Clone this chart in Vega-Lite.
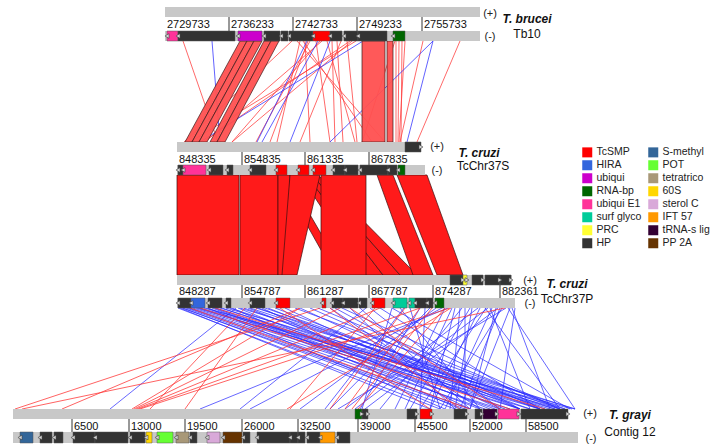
{
"$schema": "https://vega.github.io/schema/vega-lite/v6.json",
"width": 711, "height": 444, "autosize": {"type": "none"}, "padding": 0,
"background": "white",
"config": {"view": {"stroke": null}, "font": "Liberation Sans"},
"datasets": {
"bars": [
{"bar":"T1+","strand":"+","start":165,"end":480,"y":7,"y2":17,"yc":12},
{"bar":"T1-","strand":"-","start":165,"end":480,"y":31,"y2":41,"yc":36},
{"bar":"T2+","strand":"+","start":177,"end":421,"y":142,"y2":152,"yc":147},
{"bar":"T2-","strand":"-","start":177,"end":425,"y":165,"y2":175,"yc":170},
{"bar":"T3+","strand":"+","start":177,"end":512,"y":275,"y2":285,"yc":280},
{"bar":"T3-","strand":"-","start":177,"end":515,"y":298,"y2":308,"yc":303},
{"bar":"T4+","strand":"+","start":13,"end":568,"y":409,"y2":419,"yc":414},
{"bar":"T4-","strand":"-","start":13,"end":578,"y":432,"y2":443,"yc":437.5}
],
"genes": [
{"bar":"T1-","type":"ubiqui E1","start":167,"end":178},
{"bar":"T1-","type":"HP","start":178,"end":235},
{"bar":"T1-","type":"ubiqui","start":238,"end":262},
{"bar":"T1-","type":"HP","start":264,"end":280},
{"bar":"T1-","type":"HP","start":281,"end":288},
{"bar":"T1-","type":"HP","start":289,"end":313},
{"bar":"T1-","type":"TcSMP","start":313,"end":330},
{"bar":"T1-","type":"HP","start":330,"end":342},
{"bar":"T1-","type":"HP","start":344,"end":358},
{"bar":"T1-","type":"HP","start":358,"end":387},
{"bar":"T1-","type":"RNA-bp","start":393,"end":405},
{"bar":"T2+","type":"HP","start":405,"end":421},
{"bar":"T2-","type":"HP","start":178,"end":183},
{"bar":"T2-","type":"ubiqui E1","start":183,"end":206},
{"bar":"T2-","type":"HP","start":209,"end":223},
{"bar":"T2-","type":"HP","start":227,"end":233},
{"bar":"T2-","type":"HP","start":250,"end":266},
{"bar":"T2-","type":"TcSMP","start":276,"end":287},
{"bar":"T2-","type":"TcSMP","start":298,"end":309},
{"bar":"T2-","type":"TcSMP","start":313,"end":326},
{"bar":"T2-","type":"HP","start":333,"end":345},
{"bar":"T2-","type":"HP","start":345,"end":358},
{"bar":"T2-","type":"HP","start":360,"end":388},
{"bar":"T2-","type":"HP","start":388,"end":397},
{"bar":"T2-","type":"RNA-bp","start":398,"end":405},
{"bar":"T3+","type":"HP","start":450,"end":463},
{"bar":"T3+","type":"PRC","start":463,"end":467},
{"bar":"T3+","type":"HP","start":472,"end":483},
{"bar":"T3+","type":"HP","start":485,"end":500},
{"bar":"T3+","type":"HP","start":500,"end":511},
{"bar":"T3-","type":"HP","start":178,"end":191},
{"bar":"T3-","type":"HIRA","start":191,"end":205},
{"bar":"T3-","type":"HP","start":208,"end":222},
{"bar":"T3-","type":"HP","start":226,"end":231},
{"bar":"T3-","type":"HP","start":250,"end":265},
{"bar":"T3-","type":"TcSMP","start":276,"end":290},
{"bar":"T3-","type":"TcSMP","start":322,"end":326},
{"bar":"T3-","type":"HP","start":332,"end":343},
{"bar":"T3-","type":"HP","start":343,"end":358},
{"bar":"T3-","type":"HP","start":359,"end":367},
{"bar":"T3-","type":"TcSMP","start":372,"end":385},
{"bar":"T3-","type":"surf glyco","start":393,"end":407},
{"bar":"T3-","type":"surf glyco","start":409,"end":415},
{"bar":"T3-","type":"HP","start":415,"end":427},
{"bar":"T3-","type":"HP","start":427,"end":433},
{"bar":"T3-","type":"RNA-bp","start":435,"end":444},
{"bar":"T4+","type":"RNA-bp","start":355,"end":362},
{"bar":"T4+","type":"HP","start":362,"end":368},
{"bar":"T4+","type":"HP","start":407,"end":417},
{"bar":"T4+","type":"TcSMP","start":420,"end":432},
{"bar":"T4+","type":"HP","start":454,"end":467},
{"bar":"T4+","type":"HP","start":475,"end":482},
{"bar":"T4+","type":"tRNA-s lig","start":483,"end":497},
{"bar":"T4+","type":"ubiqui E1","start":498,"end":519},
{"bar":"T4+","type":"HP","start":521,"end":568},
{"bar":"T4-","type":"S-methyl","start":20,"end":33},
{"bar":"T4-","type":"HP","start":40,"end":52},
{"bar":"T4-","type":"HP","start":54,"end":63},
{"bar":"T4-","type":"HP","start":73,"end":95},
{"bar":"T4-","type":"HP","start":95,"end":128},
{"bar":"T4-","type":"HP","start":130,"end":145},
{"bar":"T4-","type":"60S","start":146,"end":152},
{"bar":"T4-","type":"POT","start":157,"end":173},
{"bar":"T4-","type":"tetratrico","start":176,"end":189},
{"bar":"T4-","type":"HP","start":190,"end":197},
{"bar":"T4-","type":"sterol C","start":207,"end":220},
{"bar":"T4-","type":"PP 2A","start":223,"end":242},
{"bar":"T4-","type":"HP","start":243,"end":250},
{"bar":"T4-","type":"HP","start":257,"end":290},
{"bar":"T4-","type":"HP","start":290,"end":298},
{"bar":"T4-","type":"HP","start":298,"end":305},
{"bar":"T4-","type":"HP","start":307,"end":320},
{"bar":"T4-","type":"IFT 57","start":320,"end":335},
{"bar":"T4-","type":"HP","start":337,"end":350}
],
"pairs": [
{"pair":"A","yA":41,"yB":142},
{"pair":"B","yA":175,"yB":275},
{"pair":"C","yA":308,"yB":409}
],
"links": [
{"pair":"A","match":"direct","from":183,"to":218},
{"pair":"A","match":"direct","from":292,"to":184},
{"pair":"A","match":"direct","from":297,"to":385},
{"pair":"A","match":"direct","from":300,"to":277},
{"pair":"A","match":"direct","from":303,"to":372},
{"pair":"A","match":"direct","from":305,"to":310},
{"pair":"A","match":"direct","from":310,"to":256},
{"pair":"A","match":"direct","from":316,"to":330},
{"pair":"A","match":"direct","from":322,"to":205},
{"pair":"A","match":"direct","from":327,"to":355},
{"pair":"A","match":"direct","from":332,"to":335},
{"pair":"A","match":"direct","from":337,"to":343},
{"pair":"A","match":"direct","from":341,"to":300},
{"pair":"A","match":"direct","from":347,"to":357},
{"pair":"A","match":"direct","from":350,"to":203},
{"pair":"A","match":"direct","from":352,"to":232},
{"pair":"A","match":"direct","from":356,"to":190},
{"pair":"A","match":"direct","from":396,"to":396},
{"pair":"A","match":"direct","from":399,"to":398},
{"pair":"A","match":"direct","from":402,"to":401},
{"pair":"A","match":"direct","from":405,"to":399},
{"pair":"A","match":"direct","from":460,"to":417},
{"pair":"A","match":"direct","from":423,"to":400},
{"pair":"A","match":"direct","from":395,"to":362},
{"pair":"A","match":"direct","from":320,"to":232},
{"pair":"A","match":"direct","from":308,"to":270},
{"pair":"A","match":"inverted","from":212,"to":220},
{"pair":"A","match":"inverted","from":307,"to":257},
{"pair":"A","match":"inverted","from":318,"to":262},
{"pair":"A","match":"inverted","from":363,"to":200},
{"pair":"A","match":"inverted","from":433,"to":330},
{"pair":"A","match":"inverted","from":433,"to":407},
{"pair":"A","match":"inverted","from":330,"to":290},
{"pair":"C","match":"inverted","from":178,"to":440},
{"pair":"C","match":"inverted","from":180,"to":430},
{"pair":"C","match":"inverted","from":182,"to":465},
{"pair":"C","match":"inverted","from":183,"to":455},
{"pair":"C","match":"inverted","from":186,"to":470},
{"pair":"C","match":"inverted","from":188,"to":485},
{"pair":"C","match":"inverted","from":190,"to":500},
{"pair":"C","match":"inverted","from":193,"to":520},
{"pair":"C","match":"inverted","from":196,"to":540},
{"pair":"C","match":"inverted","from":198,"to":530},
{"pair":"C","match":"inverted","from":200,"to":560},
{"pair":"C","match":"inverted","from":204,"to":572},
{"pair":"C","match":"inverted","from":206,"to":555},
{"pair":"C","match":"inverted","from":208,"to":445},
{"pair":"C","match":"inverted","from":212,"to":480},
{"pair":"C","match":"inverted","from":214,"to":495},
{"pair":"C","match":"inverted","from":216,"to":510},
{"pair":"C","match":"inverted","from":220,"to":550},
{"pair":"C","match":"inverted","from":222,"to":520},
{"pair":"C","match":"inverted","from":226,"to":565},
{"pair":"C","match":"inverted","from":230,"to":540},
{"pair":"C","match":"inverted","from":232,"to":460},
{"pair":"C","match":"inverted","from":236,"to":110},
{"pair":"C","match":"inverted","from":238,"to":490},
{"pair":"C","match":"inverted","from":240,"to":575},
{"pair":"C","match":"inverted","from":244,"to":530},
{"pair":"C","match":"inverted","from":248,"to":505},
{"pair":"C","match":"inverted","from":250,"to":555},
{"pair":"C","match":"inverted","from":256,"to":575},
{"pair":"C","match":"inverted","from":258,"to":540},
{"pair":"C","match":"inverted","from":262,"to":470},
{"pair":"C","match":"inverted","from":265,"to":560},
{"pair":"C","match":"inverted","from":268,"to":520},
{"pair":"C","match":"inverted","from":275,"to":545},
{"pair":"C","match":"inverted","from":285,"to":500},
{"pair":"C","match":"inverted","from":295,"to":565},
{"pair":"C","match":"inverted","from":300,"to":520},
{"pair":"C","match":"inverted","from":310,"to":540},
{"pair":"C","match":"inverted","from":318,"to":560},
{"pair":"C","match":"inverted","from":330,"to":480},
{"pair":"C","match":"inverted","from":335,"to":520},
{"pair":"C","match":"inverted","from":342,"to":560},
{"pair":"C","match":"inverted","from":350,"to":455},
{"pair":"C","match":"inverted","from":360,"to":470},
{"pair":"C","match":"inverted","from":366,"to":240},
{"pair":"C","match":"inverted","from":370,"to":500},
{"pair":"C","match":"inverted","from":380,"to":540},
{"pair":"C","match":"inverted","from":392,"to":570},
{"pair":"C","match":"inverted","from":392,"to":362},
{"pair":"C","match":"inverted","from":400,"to":480},
{"pair":"C","match":"inverted","from":404,"to":325},
{"pair":"C","match":"inverted","from":410,"to":440},
{"pair":"C","match":"inverted","from":420,"to":360},
{"pair":"C","match":"inverted","from":425,"to":420},
{"pair":"C","match":"inverted","from":430,"to":330},
{"pair":"C","match":"inverted","from":436,"to":300},
{"pair":"C","match":"inverted","from":442,"to":250},
{"pair":"C","match":"inverted","from":445,"to":395},
{"pair":"C","match":"inverted","from":448,"to":200},
{"pair":"C","match":"inverted","from":452,"to":405},
{"pair":"C","match":"inverted","from":455,"to":430},
{"pair":"C","match":"inverted","from":460,"to":450},
{"pair":"C","match":"inverted","from":462,"to":380},
{"pair":"C","match":"inverted","from":465,"to":465},
{"pair":"C","match":"inverted","from":470,"to":410},
{"pair":"C","match":"inverted","from":472,"to":455},
{"pair":"C","match":"inverted","from":478,"to":345},
{"pair":"C","match":"inverted","from":480,"to":430},
{"pair":"C","match":"inverted","from":485,"to":560},
{"pair":"C","match":"inverted","from":486,"to":420},
{"pair":"C","match":"inverted","from":488,"to":355},
{"pair":"C","match":"inverted","from":490,"to":530},
{"pair":"C","match":"inverted","from":492,"to":445},
{"pair":"C","match":"inverted","from":496,"to":470},
{"pair":"C","match":"inverted","from":498,"to":365},
{"pair":"C","match":"inverted","from":500,"to":460},
{"pair":"C","match":"inverted","from":502,"to":440},
{"pair":"C","match":"inverted","from":506,"to":338},
{"pair":"C","match":"inverted","from":508,"to":575},
{"pair":"C","match":"inverted","from":510,"to":470},
{"pair":"C","match":"inverted","from":512,"to":550},
{"pair":"C","match":"inverted","from":515,"to":500},
{"pair":"C","match":"direct","from":505,"to":22},
{"pair":"C","match":"direct","from":320,"to":15},
{"pair":"C","match":"direct","from":300,"to":62},
{"pair":"C","match":"direct","from":300,"to":132},
{"pair":"C","match":"direct","from":340,"to":134},
{"pair":"C","match":"direct","from":380,"to":136},
{"pair":"C","match":"direct","from":420,"to":138},
{"pair":"C","match":"direct","from":450,"to":140},
{"pair":"C","match":"direct","from":257,"to":185},
{"pair":"C","match":"direct","from":451,"to":287},
{"pair":"C","match":"direct","from":375,"to":290},
{"pair":"C","match":"direct","from":405,"to":330},
{"pair":"C","match":"direct","from":420,"to":345},
{"pair":"C","match":"direct","from":432,"to":352},
{"pair":"C","match":"direct","from":445,"to":358},
{"pair":"C","match":"direct","from":190,"to":470},
{"pair":"C","match":"direct","from":200,"to":510},
{"pair":"C","match":"direct","from":215,"to":545},
{"pair":"C","match":"direct","from":330,"to":460},
{"pair":"C","match":"direct","from":350,"to":500},
{"pair":"C","match":"direct","from":280,"to":430},
{"pair":"C","match":"direct","from":245,"to":150}
],
"bands": [
{"id":"a01","pair":"A","y":41,"a":240,"b":247},{"id":"a01","pair":"A","y":142,"a":185,"b":192},
{"id":"a02","pair":"A","y":41,"a":247,"b":254},{"id":"a02","pair":"A","y":142,"a":192,"b":199},
{"id":"a03","pair":"A","y":41,"a":254,"b":262},{"id":"a03","pair":"A","y":142,"a":199,"b":207},
{"id":"a04","pair":"A","y":41,"a":264,"b":271},{"id":"a04","pair":"A","y":142,"a":210,"b":217},
{"id":"a05","pair":"A","y":41,"a":271,"b":279},{"id":"a05","pair":"A","y":142,"a":217,"b":225},
{"id":"a06","pair":"A","y":41,"a":362,"b":385},{"id":"a06","pair":"A","y":142,"a":362,"b":385},
{"id":"a07","pair":"A","y":41,"a":387,"b":393},{"id":"a07","pair":"A","y":142,"a":387,"b":393},
{"id":"b01","pair":"B","y":175,"a":177,"b":239},{"id":"b01","pair":"B","y":275,"a":177,"b":239},
{"id":"b02","pair":"B","y":175,"a":240,"b":278},{"id":"b02","pair":"B","y":275,"a":240,"b":278},
{"id":"b03","pair":"B","y":175,"a":279,"b":287},{"id":"b03","pair":"B","y":275,"a":335,"b":345},
{"id":"b04","pair":"B","y":175,"a":300,"b":306},{"id":"b04","pair":"B","y":275,"a":366,"b":383},
{"id":"b05","pair":"B","y":175,"a":306,"b":312},{"id":"b05","pair":"B","y":275,"a":383,"b":400},
{"id":"b06","pair":"B","y":175,"a":312,"b":318},{"id":"b06","pair":"B","y":275,"a":400,"b":417},
{"id":"b07","pair":"B","y":175,"a":278,"b":290},{"id":"b07","pair":"B","y":275,"a":278,"b":286},
{"id":"b08","pair":"B","y":175,"a":290,"b":320},{"id":"b08","pair":"B","y":275,"a":282,"b":297},
{"id":"b09","pair":"B","y":175,"a":321,"b":366},{"id":"b09","pair":"B","y":275,"a":321,"b":366},
{"id":"b10","pair":"B","y":175,"a":377,"b":393},{"id":"b10","pair":"B","y":275,"a":413,"b":433},
{"id":"b11","pair":"B","y":175,"a":397,"b":427},{"id":"b11","pair":"B","y":275,"a":437,"b":463}
],
"tracks": [
{"track":"T1","yTop":17,"yBot":31,"yMid":25},
{"track":"T2","yTop":152,"yBot":165,"yMid":159.5},
{"track":"T3","yTop":285,"yBot":298,"yMid":292},
{"track":"T4","yTop":419,"yBot":432,"yMid":426.5}
],
"ticks": [
{"track":"T1","x":165,"label":"2729733"},{"track":"T1","x":229,"label":"2736233"},{"track":"T1","x":293,"label":"2742733"},{"track":"T1","x":357,"label":"2749233"},{"track":"T1","x":422,"label":"2755733"},
{"track":"T2","x":177,"label":"848335"},{"track":"T2","x":242,"label":"854835"},{"track":"T2","x":305,"label":"861335"},{"track":"T2","x":369,"label":"867835"},
{"track":"T3","x":177,"label":"848287"},{"track":"T3","x":242,"label":"854787"},{"track":"T3","x":305,"label":"861287"},{"track":"T3","x":369,"label":"867787"},{"track":"T3","x":433,"label":"874287"},{"track":"T3","x":500,"label":"882361"},
{"track":"T4","x":72,"label":"6500"},{"track":"T4","x":129,"label":"13000"},{"track":"T4","x":185,"label":"19500"},{"track":"T4","x":242,"label":"26000"},{"track":"T4","x":298,"label":"32500"},{"track":"T4","x":358,"label":"39000"},{"track":"T4","x":415,"label":"45500"},{"track":"T4","x":470,"label":"52000"},{"track":"T4","x":526,"label":"58500"}
],
"strandText": [
{"x":490,"y":14,"t":"(+)"},{"x":490,"y":37,"t":"(-)"},
{"x":437,"y":147,"t":"(+)"},{"x":437,"y":171,"t":"(-)"},
{"x":530,"y":281,"t":"(+)"},{"x":530,"y":304,"t":"(-)"},
{"x":590,"y":414,"t":"(+)"},{"x":591,"y":439,"t":"(-)"}
],
"speciesText": [
{"x":527,"y":19,"t":"T. brucei"},{"x":479,"y":153,"t":"T. cruzi"},{"x":567,"y":284,"t":"T. cruzi"},{"x":630,"y":415,"t":"T. grayi"}
],
"strainText": [
{"x":527,"y":34,"t":"Tb10"},{"x":483,"y":166,"t":"TcChr37S"},{"x":567,"y":299,"t":"TcChr37P"},{"x":630,"y":432,"t":"Contig 12"}
]
},
"layer": [
{
"data": {"name": "links"},
"transform": [{"filter": {"field": "pair", "equal": "A"}}, {"filter": {"field": "match", "equal": "direct"}}, {"lookup": "pair", "from": {"data": {"name": "pairs"}, "key": "pair", "fields": ["yA", "yB"]}}],
"mark": {"type": "rule", "color": "#ff3a3a", "strokeWidth": 0.9, "opacity": 0.85},
"encoding": {
"x": {"field": "from", "type": "quantitative", "scale": {"domain": [0, 711], "nice": false, "zero": false}, "axis": null},
"x2": {"field": "to"},
"y": {"field": "yA", "type": "quantitative", "scale": {"domain": [0, 444], "nice": false, "zero": false, "reverse": true}, "axis": null},
"y2": {"field": "yB"}
}
},
{
"data": {"name": "links"},
"transform": [{"filter": {"field": "pair", "equal": "A"}}, {"filter": {"field": "match", "equal": "inverted"}}, {"lookup": "pair", "from": {"data": {"name": "pairs"}, "key": "pair", "fields": ["yA", "yB"]}}],
"mark": {"type": "rule", "color": "#3030ff", "strokeWidth": 0.9, "opacity": 0.85},
"encoding": {
"x": {"field": "from", "type": "quantitative", "axis": null},
"x2": {"field": "to"},
"y": {"field": "yA", "type": "quantitative", "axis": null},
"y2": {"field": "yB"}
}
},
{
"data": {"name": "bands"},
"transform": [{"filter": {"field": "pair", "equal": "A"}}],
"mark": {"type": "area", "orient": "horizontal", "fill": "#ff5050", "fillOpacity": 0.95, "stroke": "#3a1a1a", "strokeWidth": 0.7},
"encoding": {
"y": {"field": "y", "type": "quantitative", "axis": null},
"x": {"field": "a", "type": "quantitative", "axis": null, "stack": null},
"x2": {"field": "b"},
"detail": {"field": "id"}
}
},
{
"data": {"name": "bands"},
"transform": [{"filter": {"field": "pair", "equal": "B"}}],
"mark": {"type": "area", "orient": "horizontal", "fill": "#ff1a1a", "stroke": "#3a1010", "strokeWidth": 0.7},
"encoding": {
"y": {"field": "y", "type": "quantitative", "axis": null},
"x": {"field": "a", "type": "quantitative", "axis": null, "stack": null},
"x2": {"field": "b"},
"detail": {"field": "id"}
}
},
{
"data": {"name": "links"},
"transform": [{"filter": {"field": "pair", "equal": "C"}}, {"filter": {"field": "match", "equal": "inverted"}}, {"lookup": "pair", "from": {"data": {"name": "pairs"}, "key": "pair", "fields": ["yA", "yB"]}}],
"mark": {"type": "rule", "color": "#2b2bff", "strokeWidth": 0.9, "opacity": 0.8},
"encoding": {
"x": {"field": "from", "type": "quantitative", "axis": null},
"x2": {"field": "to"},
"y": {"field": "yA", "type": "quantitative", "axis": null},
"y2": {"field": "yB"}
}
},
{
"data": {"name": "links"},
"transform": [{"filter": {"field": "pair", "equal": "C"}}, {"filter": {"field": "match", "equal": "direct"}}, {"lookup": "pair", "from": {"data": {"name": "pairs"}, "key": "pair", "fields": ["yA", "yB"]}}],
"mark": {"type": "rule", "color": "#ff3030", "strokeWidth": 0.9, "opacity": 0.85},
"encoding": {
"x": {"field": "from", "type": "quantitative", "axis": null},
"x2": {"field": "to"},
"y": {"field": "yA", "type": "quantitative", "axis": null},
"y2": {"field": "yB"}
}
},
{
"data": {"name": "bars"},
"mark": {"type": "rect", "color": "#c8c8c8"},
"encoding": {
"x": {"field": "start", "type": "quantitative", "axis": null},
"x2": {"field": "end"},
"y": {"field": "y", "type": "quantitative", "axis": null},
"y2": {"field": "y2"}
}
},
{
"data": {"name": "ticks"},
"transform": [{"filter": {"not": {"field": "label", "oneOf": ["2729733", "848335", "848287"]}}}, {"lookup": "track", "from": {"data": {"name": "tracks"}, "key": "track", "fields": ["yTop", "yBot"]}}],
"mark": {"type": "rule", "color": "#333333", "strokeWidth": 1},
"encoding": {
"x": {"field": "x", "type": "quantitative", "axis": null},
"y": {"field": "yTop", "type": "quantitative", "axis": null},
"y2": {"field": "yBot"}
}
},
{
"data": {"name": "ticks"},
"transform": [{"lookup": "track", "from": {"data": {"name": "tracks"}, "key": "track", "fields": ["yMid"]}}],
"mark": {"type": "text", "align": "left", "baseline": "middle", "dx": 2, "fontSize": 11, "font": "Liberation Sans", "color": "#111111"},
"encoding": {
"x": {"field": "x", "type": "quantitative", "axis": null},
"y": {"field": "yMid", "type": "quantitative", "axis": null},
"text": {"field": "label"}
}
},
{
"data": {"name": "genes"},
"transform": [{"lookup": "bar", "from": {"data": {"name": "bars"}, "key": "bar", "fields": ["y", "y2", "yc", "strand"]}}],
"mark": {"type": "rect", "stroke": "#555555", "strokeWidth": 0.5},
"encoding": {
"x": {"field": "start", "type": "quantitative", "axis": null},
"x2": {"field": "end"},
"y": {"field": "y", "type": "quantitative", "axis": null},
"y2": {"field": "y2"},
"color": {
"field": "type", "type": "nominal",
"scale": {
"domain": ["TcSMP", "HIRA", "ubiqui", "RNA-bp", "ubiqui E1", "surf glyco", "PRC", "HP", "S-methyl", "POT", "tetratrico", "60S", "sterol C", "IFT 57", "tRNA-s lig", "PP 2A"],
"range": ["#ff0000", "#3366dd", "#cc00cc", "#006600", "#ff3399", "#00cc99", "#ffff33", "#333333", "#336699", "#66ff33", "#a89878", "#ffd700", "#d9a9d9", "#ff9900", "#330033", "#663300"]
},
"legend": {"orient": "none", "legendX": 582, "legendY": 147, "columns": 2, "title": null, "symbolType": "square", "symbolSize": 100, "symbolStrokeWidth": 0, "symbolOpacity": 1, "labelFontSize": 10.5, "labelFont": "Liberation Sans", "labelColor": "#222222", "rowPadding": 2, "columnPadding": 6, "labelOffset": 4, "gridAlign": "each"}
}
}
},
{
"data": {"name": "genes"},
"transform": [{"lookup": "bar", "from": {"data": {"name": "bars"}, "key": "bar", "fields": ["yc", "strand"]}}, {"filter": {"field": "strand", "equal": "-"}}],
"mark": {"type": "point", "shape": "triangle-left", "filled": true, "fill": "#d6d6d6", "stroke": "#444444", "strokeWidth": 0.6, "size": 22, "dx": -2, "opacity": 1},
"encoding": {
"x": {"field": "start", "type": "quantitative", "axis": null},
"y": {"field": "yc", "type": "quantitative", "axis": null}
}
},
{
"data": {"name": "genes"},
"transform": [{"lookup": "bar", "from": {"data": {"name": "bars"}, "key": "bar", "fields": ["yc", "strand"]}}, {"filter": {"field": "strand", "equal": "+"}}],
"mark": {"type": "point", "shape": "triangle-right", "filled": true, "fill": "#d6d6d6", "stroke": "#444444", "strokeWidth": 0.6, "size": 22, "dx": 2, "opacity": 1},
"encoding": {
"x": {"field": "end", "type": "quantitative", "axis": null},
"y": {"field": "yc", "type": "quantitative", "axis": null}
}
},
{
"data": {"name": "strandText"},
"mark": {"type": "text", "align": "center", "baseline": "middle", "fontSize": 11, "font": "Liberation Sans", "color": "#222222"},
"encoding": {
"x": {"field": "x", "type": "quantitative", "axis": null},
"y": {"field": "y", "type": "quantitative", "axis": null},
"text": {"field": "t"}
}
},
{
"data": {"name": "speciesText"},
"mark": {"type": "text", "align": "center", "baseline": "middle", "fontSize": 12, "font": "Liberation Sans", "fontStyle": "italic", "fontWeight": "bold", "color": "#111111"},
"encoding": {
"x": {"field": "x", "type": "quantitative", "axis": null},
"y": {"field": "y", "type": "quantitative", "axis": null},
"text": {"field": "t"}
}
},
{
"data": {"name": "strainText"},
"mark": {"type": "text", "align": "center", "baseline": "middle", "fontSize": 12, "font": "Liberation Sans", "color": "#111111"},
"encoding": {
"x": {"field": "x", "type": "quantitative", "axis": null},
"y": {"field": "y", "type": "quantitative", "axis": null},
"text": {"field": "t"}
}
}
]
}
